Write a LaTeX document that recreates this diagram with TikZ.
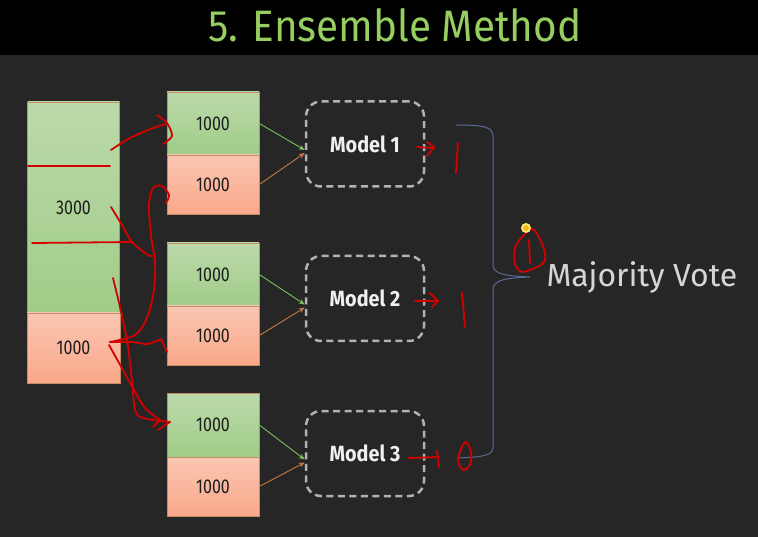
\documentclass[tikz,border=0pt]{standalone}
\usepackage{fontspec}
\setmainfont{Fira Sans}
\newfontfamily\titlefont{Fira Sans}[FakeStretch=0.92]
\newfontfamily\cellfont{Fira Sans}[FakeStretch=0.8]
\newfontfamily\modelfont{Fira Sans}[FakeStretch=0.9]
\usetikzlibrary{arrows.meta}

\definecolor{bg}{RGB}{38,38,38}
\definecolor{titlegreen}{RGB}{150,206,96}
\definecolor{gtop}{RGB}{188,218,170}
\definecolor{gbot}{RGB}{160,204,136}
\definecolor{otop}{RGB}{250,198,178}
\definecolor{obot}{RGB}{250,168,138}
\definecolor{boxedge}{RGB}{196,140,100}
\definecolor{textdark}{RGB}{28,28,28}
\definecolor{dashgray}{RGB}{178,178,178}
\definecolor{ink}{RGB}{212,0,0}
\definecolor{bracec}{RGB}{88,108,150}
\definecolor{votegray}{RGB}{214,214,214}
\definecolor{feedgreen}{RGB}{120,190,90}
\definecolor{feedorange}{RGB}{200,120,70}

\tikzset{
  half/.style={rectangle, draw=boxedge, line width=0.6pt, minimum width=92pt,
    inner sep=0pt, text=textdark, font=\cellfont\fontsize{20}{20}\selectfont},
  greenhalf/.style={half, top color=gtop, bottom color=gbot},
  orangehalf/.style={half, top color=otop, bottom color=obot},
  model/.style={rectangle, draw=dashgray, line width=2.5pt, dash pattern=on 7pt off 4.5pt,
    rounded corners=15pt, minimum width=118pt, minimum height=85pt, text=white!94!black,
    font=\modelfont\fontsize{22}{22}\selectfont\bfseries},
  feed/.style={line width=0.9pt, -{Stealth[length=6pt,width=5pt]}},
  ink/.style={draw=ink, line width=1.8pt, line cap=round, line join=round},
}

\begin{document}
\begin{tikzpicture}[x=1pt,y=-1pt]
  % canvas and title bar
  \fill[bg] (0,0) rectangle (758,537);
  \fill[black] (0,0) rectangle (758,55);
  \useasboundingbox (0,0) rectangle (758,537);
  \node[text=titlegreen, font=\titlefont\fontsize{44}{44}\selectfont] (title) at (395,25) {5. Ensemble Method};

  % full data set
  \node[greenhalf, minimum height=211pt] (full) at (73.5,207.5) {3000};
  \node[orangehalf, minimum height=70pt, minimum width=93pt] (fullb) at (73.5,348) {1000};

  % three subsets
  \node[greenhalf, minimum height=63pt] (s1a) at (213,123.5) {1000};
  \node[orangehalf, minimum height=59pt] (s1b) at (213,184.5) {1000};
  \node[greenhalf, minimum height=63pt] (s2a) at (213,274.5) {1000};
  \node[orangehalf, minimum height=59pt] (s2b) at (213,335.5) {1000};
  \node[greenhalf, minimum height=64pt] (s3a) at (213,425) {1000};
  \node[orangehalf, minimum height=59pt] (s3b) at (213,486.5) {1000};

  % models
  \node[model] (m1) at (365,144) {Model 1};
  \node[model] (m2) at (365,298.5) {Model 2};
  \node[model] (m3) at (365,453.5) {Model 3};

  % training feeds
  \foreach \i in {1,2,3}{
    \draw[feed, feedgreen] (s\i a.east) -- ([yshift=-6pt]m\i.west);
    \draw[feed, feedorange] (s\i b.east) -- ([yshift=-9pt]m\i.west);
  }

  % brace and vote label
  \draw[bracec, line width=1pt] (456,125) .. controls (485,125) and (493,127) .. (493,137)
    -- (493,265) .. controls (493,274) and (505,276) .. (530,277)
    .. controls (505,278) and (493,280) .. (493,290)
    -- (493,447) .. controls (493,455) and (485,457) .. (457,458);
  \node[anchor=west, text=votegray, font=\fontsize{32}{32}\selectfont] (vote) at (543,277) {Majority Vote};

  % handwritten notes
  \draw[ink] (28,166) -- (110,166);
  \draw[ink] (32,243) -- (133,242);
  \draw[ink] plot[smooth] coordinates {(111,207) (122,225) (132,242) (148,255) (152,256)};
  \draw[ink] plot[smooth] coordinates {(111,150) (130,138) (153,128) (166,124)};
  \draw[ink] plot[smooth] coordinates {(157,115) (167,123) (172,136) (163,144)};
  \draw[ink] plot[smooth] coordinates {(166,203) (169,195) (162,186) (153,188) (149,205) (151,235)
    (155,262) (154,290) (147,318) (135,335) (110,342)};
  \draw[ink] plot[smooth] coordinates {(110,342) (132,342) (148,344) (161,339)} -- (167,352);
  \draw[ink] plot[smooth] coordinates {(113,278) (120,307) (127,340) (132,380) (135,410) (143,418) (170,422)};
  \draw[ink] (153,427) -- (160,420);
  \draw[ink] (158,430) -- (170,422);
  \draw[ink] plot[smooth] coordinates {(109,345) (123,370) (134,390) (145,408) (160,420)};

  \draw[ink] (417,147) -- (434,148);
  \draw[ink] (427,142) -- (434,147) -- (427,156);
  \draw[ink] (458,143) -- (456,173);

  \draw[ink] (415,301) -- (438,301);
  \draw[ink] (430,293) -- (438,301) -- (432,307);
  \draw[ink] (462,292) -- (465,327);

  \draw[ink] (408,458) -- (438,457);
  \draw[ink] (437,451) -- (439,467);
  \draw[ink] plot[smooth cycle] coordinates {(466,442) (471,452) (470,465) (463,470) (458,461) (461,449)};

  \draw[ink] plot[smooth cycle] coordinates {(533,229) (543,246) (545,260) (537,267) (522,272) (515,264) (515,248) (523,236)};
  \draw[ink] (529,240) -- (530,263);

  % pointer dot
  \fill[fill={rgb,255:red,255;green,232;blue,120}] (526,228) circle (5);
  \fill[fill={rgb,255:red,238;green,188;blue,30}] (526,228) circle (3);
\end{tikzpicture}
\end{document}
